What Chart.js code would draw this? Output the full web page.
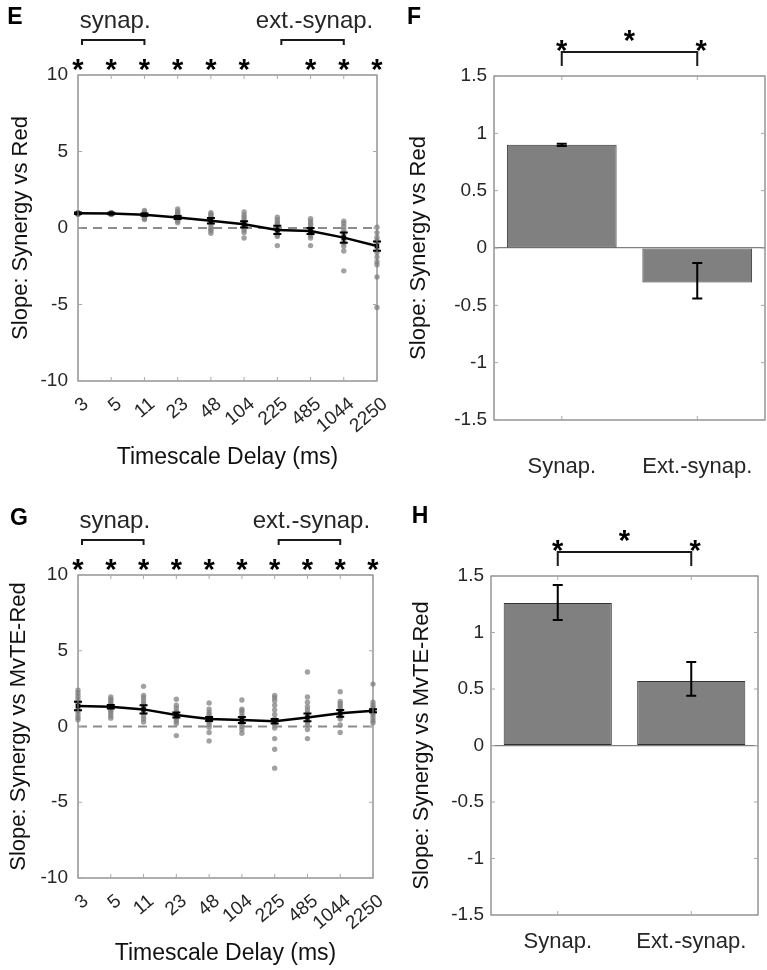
<!DOCTYPE html>
<html>
<head>
<meta charset="utf-8">
<script src="https://cdn.jsdelivr.net/npm/chart.js@4.4.0/dist/chart.umd.min.js"></script>
<style>
  body { margin: 0; background: #fff; }
  #fig { position: relative; width: 767px; height: 970px; overflow: hidden; }
  #fig canvas { position: absolute; }
</style>
</head>
<body>
<div id="fig">
  <canvas id="panel-e" width="390" height="490" style="left:0;top:0"></canvas>
  <canvas id="panel-f" width="372" height="490" style="left:395px;top:0"></canvas>
  <canvas id="panel-g" width="390" height="475" style="left:0;top:495px"></canvas>
  <canvas id="panel-h" width="372" height="475" style="left:395px;top:495px"></canvas>
</div>
<script>
var delays = ['3', '5', '11', '23', '48', '104', '225', '485', '1044', '2250'];
var groups = ['Synap.', 'Ext.-synap.'];
var slopeTicks = [-10, -5, 0, 5, 10];
var barTicks = [-1.5, -1, -0.5, 0, 0.5, 1, 1.5];
var zeroLine = [0, 0, 0, 0, 0, 0, 0, 0, 0, 0];

// E: synergy vs red, per timescale
var meanE = [0.96, 0.95, 0.87, 0.69, 0.47, 0.24, -0.13, -0.2, -0.63, -1.18];
var errE = [0.05, 0.05, 0.07, 0.1, 0.18, 0.2, 0.27, 0.2, 0.33, 0.3];
var starsE = [1, 1, 1, 1, 1, 1, 0, 1, 1, 1];
var dotsE = [
  [1.0, 0.98, 0.96, 0.95, 0.94, 0.93, 0.92, 0.9, 0.97, 0.99, 0.91, 0.95],
  [1.0, 0.98, 0.97, 0.95, 0.94, 0.93, 0.9, 0.96, 0.99, 0.92, 0.88, 0.95],
  [1.15, 1.05, 1.0, 0.95, 0.9, 0.88, 0.85, 0.8, 0.75, 0.7, 0.6, 0.55],
  [1.25, 1.1, 1.0, 0.9, 0.85, 0.8, 0.7, 0.65, 0.6, 0.5, 0.45, 0.35],
  [1.0, 0.9, 0.8, 0.7, 0.6, 0.5, 0.4, 0.2, 0.0, -0.1, -0.2, -0.35],
  [1.05, 0.85, 0.7, 0.55, 0.4, 0.3, 0.2, 0.1, 0.0, -0.15, -0.3, -0.65],
  [0.7, 0.55, 0.4, 0.3, 0.15, 0.0, -0.1, -0.2, -0.3, -0.45, -0.55, -1.15],
  [0.6, 0.45, 0.3, 0.2, 0.05, -0.05, -0.15, -0.25, -0.35, -0.5, -0.65, -1.15],
  [0.45, 0.3, 0.1, -0.1, -0.3, -0.45, -0.6, -0.8, -1.0, -1.2, -1.5, -2.8],
  [0.05, -0.3, -0.6, -0.8, -1.0, -1.3, -1.6, -1.9, -2.2, -2.4, -3.2, -5.2]
];

// G: synergy vs MvTE-red, per timescale
var meanG = [1.35, 1.3, 1.13, 0.76, 0.49, 0.43, 0.34, 0.6, 0.87, 1.04];
var errG = [0.28, 0.12, 0.27, 0.17, 0.13, 0.2, 0.15, 0.25, 0.22, 0.1];
var starsG = [1, 1, 1, 1, 1, 1, 1, 1, 1, 1];
var dotsG = [
  [2.4, 2.2, 2.0, 1.8, 1.6, 1.5, 1.35, 1.2, 1.0, 0.8, 0.6, 0.45],
  [1.95, 1.8, 1.7, 1.55, 1.45, 1.35, 1.25, 1.1, 1.0, 0.85, 0.7, 0.55],
  [2.65, 2.05, 1.9, 1.7, 1.5, 1.35, 1.2, 1.05, 0.9, 0.7, 0.5, 0.3],
  [1.8, 1.4, 1.2, 1.0, 0.9, 0.8, 0.7, 0.6, 0.5, 0.35, 0.2, -0.6],
  [1.55, 1.15, 0.95, 0.8, 0.65, 0.5, 0.4, 0.3, 0.15, -0.05, -0.4, -0.95],
  [1.75, 1.15, 1.05, 0.9, 0.7, 0.55, 0.45, 0.3, 0.15, 0.0, -0.2, -0.45],
  [2.05, 1.9, 1.7, 1.4, 1.1, 0.8, 0.5, 0.3, 0.1, -0.1, -0.8, -1.5, -2.75],
  [3.6, 1.95, 1.6, 1.3, 1.1, 0.9, 0.7, 0.5, 0.3, 0.1, -0.2, -0.8],
  [2.3, 1.65, 1.5, 1.35, 1.2, 1.05, 0.9, 0.8, 0.65, 0.5, 0.1, -0.4],
  [2.8, 1.6, 1.4, 1.25, 1.1, 1.0, 0.9, 0.8, 0.6, 0.4, 0.25]
];

// F and H: grouped slopes
var barF = [0.90, -0.30];
var lowF = [0.89, -0.44];
var highF = [0.91, -0.13];
var barH = [1.26, 0.57];
var lowH = [1.11, 0.44];
var highH = [1.42, 0.74];

var FONT = 'Arial, "Liberation Sans", Helvetica, sans-serif';
var TEXT = '#262626';
var FRAME = '#7a7a7a';

function drawStar(ctx, x, y) {
  ctx.font = 'bold 29px ' + FONT;
  ctx.textAlign = 'center';
  ctx.textBaseline = 'alphabetic';
  ctx.fillText('*', x, y + 17);
}

function makeDecor(cfg) {
  return {
    id: 'decor',
    afterDatasetsDraw: function (chart) {
      var ctx = chart.ctx;
      var a = chart.chartArea;
      var xs = chart.scales.x;
      var ys = chart.scales.y;
      var meta = chart.getDatasetMeta(0);

      ctx.save();

      // error bars
      ctx.strokeStyle = '#000';
      ctx.lineWidth = cfg.errWidth;
      meta.data.forEach(function (el, i) {
        var top = ys.getPixelForValue(cfg.high[i]);
        var bot = ys.getPixelForValue(cfg.low[i]);
        ctx.beginPath();
        ctx.moveTo(el.x, top);
        ctx.lineTo(el.x, bot);
        ctx.moveTo(el.x - cfg.cap, top);
        ctx.lineTo(el.x + cfg.cap, top);
        ctx.moveTo(el.x - cfg.cap, bot);
        ctx.lineTo(el.x + cfg.cap, bot);
        ctx.stroke();
      });

      // box and inward ticks
      ctx.strokeStyle = FRAME;
      ctx.lineWidth = 1.2;
      ctx.strokeRect(a.left, a.top, a.right - a.left, a.bottom - a.top);
      ctx.strokeStyle = '#a8a8a8';
      ctx.lineWidth = 1;
      ctx.beginPath();
      ys.ticks.forEach(function (t) {
        var py = ys.getPixelForValue(t.value);
        ctx.moveTo(a.left, py);
        ctx.lineTo(a.left + 4, py);
        ctx.moveTo(a.right, py);
        ctx.lineTo(a.right - 4, py);
      });
      xs.ticks.forEach(function (t, i) {
        var px = xs.getPixelForTick(i);
        ctx.moveTo(px, a.top);
        ctx.lineTo(px, a.top + 4);
        ctx.moveTo(px, a.bottom);
        ctx.lineTo(px, a.bottom - 4);
      });
      ctx.stroke();

      // significance marks
      ctx.fillStyle = '#000';
      ctx.strokeStyle = '#1a1a1a';
      ctx.lineWidth = 2;
      if (cfg.stars) {
        cfg.stars.forEach(function (s, i) {
          if (s) {
            drawStar(ctx, xs.getPixelForValue(i), a.top - 13);
          }
        });
        cfg.brackets.forEach(function (b) {
          var x1 = xs.getPixelForValue(b[0]) + 4;
          var x2 = xs.getPixelForValue(b[1]);
          ctx.beginPath();
          ctx.moveTo(x1, a.top - 30);
          ctx.lineTo(x1, a.top - 35);
          ctx.lineTo(x2, a.top - 35);
          ctx.lineTo(x2, a.top - 30);
          ctx.stroke();
          ctx.font = '24px ' + FONT;
          ctx.textAlign = 'center';
          ctx.textBaseline = 'middle';
          ctx.fillStyle = TEXT;
          ctx.fillText(b[2], (x1 + x2) / 2 + 2, a.top - 54);
          ctx.fillStyle = '#000';
        });
      } else {
        var c1 = xs.getPixelForValue(0);
        var c2 = xs.getPixelForValue(1);
        ctx.beginPath();
        ctx.moveTo(c1, a.top - 10);
        ctx.lineTo(c1, a.top - 24);
        ctx.lineTo(c2, a.top - 24);
        ctx.lineTo(c2, a.top - 10);
        ctx.stroke();
        drawStar(ctx, c1, a.top - 33);
        drawStar(ctx, (c1 + c2) / 2, a.top - 43);
        drawStar(ctx, c2 + 4, a.top - 33);
      }

      // panel letter
      ctx.font = 'bold 23px ' + FONT;
      ctx.textAlign = 'center';
      ctx.textBaseline = 'middle';
      ctx.fillStyle = '#000';
      ctx.fillText(cfg.letter, cfg.letterX, cfg.letterY);

      ctx.restore();
    }
  };
}

function font(size) {
  return { family: FONT, size: size };
}

function dropEdgePadding(s) {
  s.paddingLeft = 0;
  s.paddingRight = 0;
}

function slopeChart(id, cfg) {
  var dots = [];
  cfg.dots.forEach(function (list, i) {
    list.forEach(function (v) {
      dots.push({ x: delays[i], y: v });
    });
  });

  return new Chart(document.getElementById(id), {
    type: 'line',
    data: {
      labels: delays,
      datasets: [
        {
          data: cfg.mean,
          borderColor: '#000',
          borderWidth: 2.5,
          pointStyle: 'rect',
          pointRadius: 3,
          pointBackgroundColor: '#000',
          pointBorderWidth: 0,
          tension: 0,
          order: 0
        },
        {
          data: zeroLine,
          borderColor: '#8c8c8c',
          borderWidth: 2,
          borderDash: [9, 6],
          pointRadius: 0,
          order: 1
        },
        {
          data: dots,
          showLine: false,
          pointRadius: 2.7,
          pointBackgroundColor: 'rgba(130,130,130,0.75)',
          pointBorderWidth: 0,
          order: 2
        }
      ]
    },
    options: {
      responsive: false,
      animation: false,
      layout: { padding: { left: 0, top: cfg.top, right: cfg.right, bottom: 0 } },
      plugins: { legend: { display: false }, tooltip: { enabled: false } },
      scales: {
        x: {
          type: 'category',
          offset: false,
          grid: { display: false, drawTicks: false },
          border: { display: false },
          ticks: {
            autoSkip: false,
            minRotation: 40,
            maxRotation: 40,
            padding: 12,
            labelOffset: 8,
            color: TEXT,
            font: font(19)
          },
          title: {
            display: true,
            text: 'Timescale Delay (ms)',
            color: '#111',
            font: font(23),
            padding: { top: 0, bottom: cfg.xTitlePad }
          },
          afterFit: function (s) {
            s.height = cfg.xHeight;
            dropEdgePadding(s);
          }
        },
        y: {
          min: -10,
          max: 10,
          afterBuildTicks: function (s) {
            s.ticks = slopeTicks.map(function (v) { return { value: v }; });
          },
          grid: { display: false, drawTicks: false },
          border: { display: false },
          ticks: {
            padding: 10,
            color: TEXT,
            font: font(19),
            callback: function (v) { return String(v); }
          },
          title: {
            display: true,
            text: cfg.yTitle,
            color: '#111',
            font: font(22),
            padding: { top: cfg.yTitlePad, bottom: 0 }
          },
          afterFit: function (s) { s.width = 78; }
        }
      }
    },
    plugins: [makeDecor({
      high: cfg.mean.map(function (m, i) { return m + cfg.err[i]; }),
      low: cfg.mean.map(function (m, i) { return m - cfg.err[i]; }),
      cap: 4,
      errWidth: 2,
      stars: cfg.stars,
      brackets: [[0, 2, 'synap.'], [6, 8, 'ext.-synap.']],
      letter: cfg.letter,
      letterX: cfg.letterX,
      letterY: cfg.letterY
    })]
  });
}

function barChart(id, cfg) {
  return new Chart(document.getElementById(id), {
    type: 'bar',
    data: {
      labels: groups,
      datasets: [{
        data: cfg.values,
        backgroundColor: '#808080',
        borderColor: '#333',
        borderWidth: 1,
        borderSkipped: false,
        barPercentage: 0.81,
        categoryPercentage: 1
      }]
    },
    options: {
      responsive: false,
      animation: false,
      layout: { padding: { left: 0, top: cfg.top, right: cfg.right, bottom: 0 } },
      plugins: { legend: { display: false }, tooltip: { enabled: false } },
      scales: {
        x: {
          grid: { display: false, drawTicks: false },
          border: { display: false },
          ticks: { padding: cfg.xPad, color: TEXT, font: font(22) },
          afterFit: function (s) {
            s.height = cfg.xHeight;
            dropEdgePadding(s);
          }
        },
        y: {
          min: -1.5,
          max: 1.5,
          afterBuildTicks: function (s) {
            s.ticks = barTicks.map(function (v) { return { value: v }; });
          },
          grid: {
            drawTicks: false,
            lineWidth: 1.2,
            color: function (c) {
              return c.tick && c.tick.value === 0 ? '#808080' : 'rgba(0,0,0,0)';
            }
          },
          border: { display: false },
          ticks: {
            padding: 7,
            color: TEXT,
            font: font(19),
            callback: function (v) { return String(v); }
          },
          title: {
            display: true,
            text: cfg.yTitle,
            color: '#111',
            font: font(22),
            padding: { top: cfg.yTitlePad, bottom: 0 }
          },
          afterFit: function (s) { s.width = cfg.yWidth; }
        }
      }
    },
    plugins: [makeDecor({
      high: cfg.high,
      low: cfg.low,
      cap: 5,
      errWidth: 2,
      stars: null,
      letter: cfg.letter,
      letterX: cfg.letterX,
      letterY: cfg.letterY
    })]
  });
}

slopeChart('panel-e', {
  mean: meanE, err: errE, dots: dotsE, stars: starsE,
  yTitle: 'Slope: Synergy vs Red',
  top: 75, right: 13, xHeight: 109, xTitlePad: 19, yTitlePad: 8,
  letter: 'E', letterX: 15, letterY: 18
});

slopeChart('panel-g', {
  mean: meanG, err: errG, dots: dotsG, stars: starsG,
  yTitle: 'Slope: Synergy vs MvTE-Red',
  top: 80, right: 17, xHeight: 92, xTitlePad: 3, yTitlePad: 6,
  letter: 'G', letterX: 19, letterY: 24
});

barChart('panel-f', {
  values: barF, low: lowF, high: highF,
  yTitle: 'Slope: Synergy vs Red',
  top: 76, right: 2, yWidth: 99, xHeight: 70, xPad: 34, yTitlePad: 11,
  letter: 'F', letterX: 19, letterY: 18
});

barChart('panel-h', {
  values: barH, low: lowH, high: highH,
  yTitle: 'Slope: Synergy vs MvTE-Red',
  top: 81, right: 9, yWidth: 96, xHeight: 55, xPad: 14, yTitlePad: 14,
  letter: 'H', letterX: 25, letterY: 22
});
</script>
</body>
</html>
